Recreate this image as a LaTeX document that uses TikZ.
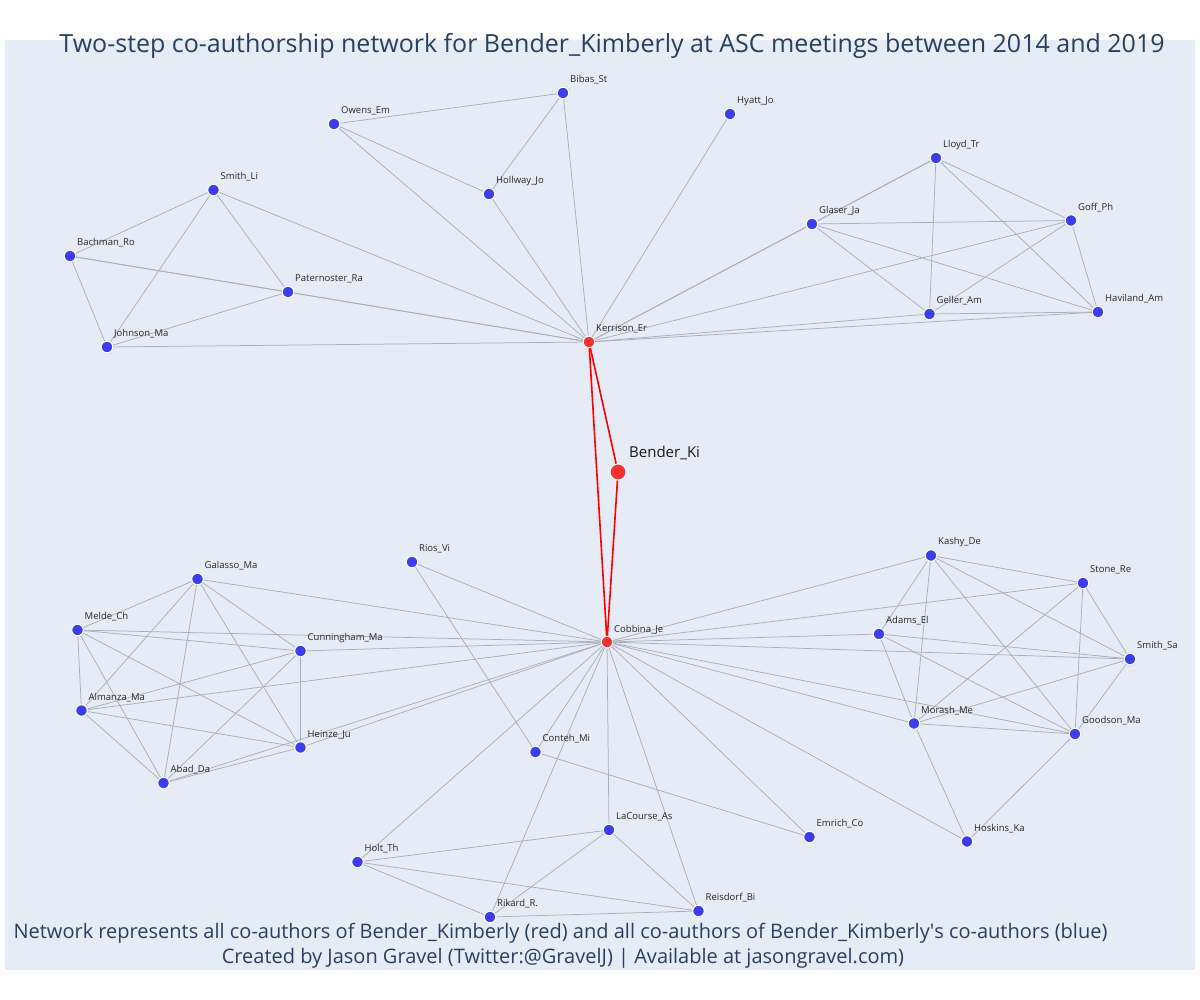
\documentclass[tikz,border=0pt]{standalone}
\usepackage{fontspec}
\setmainfont{Open Sans}
\definecolor{plotbg}{HTML}{E5ECF6}
\definecolor{titlec}{HTML}{2A3F5F}
\definecolor{edgec}{HTML}{ABAEB9}
\definecolor{bluen}{HTML}{3C3CF2}
\definecolor{redn}{HTML}{F52E30}
\pgfdeclarelayer{bglayer}
\pgfdeclarelayer{edgelayer}
\pgfsetlayers{bglayer,edgelayer,main}
\tikzset{
  bnode/.style={circle,fill=bluen,draw=white,line width=1pt,minimum size=11.5pt,inner sep=0pt},
  rnode/.style={circle,fill=redn,draw=white,line width=1pt,minimum size=11.5pt,inner sep=0pt},
  bignode/.style={circle,fill=redn,draw=white,line width=1pt,minimum size=16pt,inner sep=0pt},
  lab/.style={anchor=west,inner sep=0pt,font=\fontsize{9.5}{11}\selectfont,text=black!85},
  biglab/.style={anchor=west,inner sep=0pt,font=\fontsize{15}{18}\selectfont,text=black!90},
  edge/.style={draw=edgec,line width=0.75pt},
  redge/.style={draw=red,line width=1.6pt},
  titletext/.style={inner sep=0pt,text=titlec,font=\fontsize{25}{30}\selectfont,anchor=base},
  foottext/.style={inner sep=0pt,text=titlec,font=\fontsize{20}{24}\selectfont,anchor=base}
}
\newcommand{\au}[5]{\node[#5] (#1) at (#2,#3) {}; \node[lab] (#1-l) at ({#2+7},{#3-13}) {#4};}
\begin{document}
\begin{tikzpicture}[x=1pt,y=-1pt]
\useasboundingbox (0,0) rectangle (1200,1000);
\begin{pgfonlayer}{bglayer}
\fill[white] (0,0) rectangle (1200,1000);
\fill[plotbg] (5,40) rectangle (1195,970);
\end{pgfonlayer}
% red nodes
\node[rnode] (kerr) at (589,342) {};
\node[lab] (kerr-l) at (596,329) {Kerrison\_Er};
\node[bignode] (bender) at (618,472) {};
\node[biglab] (bender-l) at (629,453) {Bender\_Ki};
\node[rnode] (cobb) at (607,642) {};
\node[lab] (cobb-l) at (614,629.5) {Cobbina\_Je};
% top cluster
\au{bibas}{563}{93}{Bibas\_St}{bnode}
\au{owens}{334}{124}{Owens\_Em}{bnode}
\au{hyatt}{730}{114}{Hyatt\_Jo}{bnode}
\au{hollway}{489}{194}{Hollway\_Jo}{bnode}
\au{smithli}{213.5}{190}{Smith\_Li}{bnode}
\au{bachman}{70}{256}{Bachman\_Ro}{bnode}
\au{pater}{288}{292}{Paternoster\_Ra}{bnode}
\au{johnson}{107}{347}{Johnson\_Ma}{bnode}
\au{lloyd}{936}{158}{Lloyd\_Tr}{bnode}
\au{glaser}{812}{224}{Glaser\_Ja}{bnode}
\au{goff}{1071}{220.5}{Goff\_Ph}{bnode}
\au{geller}{929.5}{314}{Geller\_Am}{bnode}
\au{haviland}{1098}{312}{Haviland\_Am}{bnode}
% bottom left cluster
\au{rios}{412}{562}{Rios\_Vi}{bnode}
\au{galasso}{197.5}{579}{Galasso\_Ma}{bnode}
\au{melde}{77.5}{630}{Melde\_Ch}{bnode}
\au{cunning}{300.5}{651}{Cunningham\_Ma}{bnode}
\au{almanza}{81.5}{710.5}{Almanza\_Ma}{bnode}
\au{heinze}{300.5}{747.5}{Heinze\_Ju}{bnode}
\au{abad}{163.5}{783}{Abad\_Da}{bnode}
\au{conteh}{535.5}{752}{Conteh\_Mi}{bnode}
% right cluster
\au{kashy}{931}{555.5}{Kashy\_De}{bnode}
\au{stone}{1083}{583}{Stone\_Re}{bnode}
\au{adams}{879}{634}{Adams\_El}{bnode}
\au{smithsa}{1130}{659}{Smith\_Sa}{bnode}
\au{morash}{914}{723.5}{Morash\_Me}{bnode}
\au{goodson}{1075}{734}{Goodson\_Ma}{bnode}
\au{hoskins}{967}{841.5}{Hoskins\_Ka}{bnode}
\au{emrich}{809.5}{837}{Emrich\_Co}{bnode}
% bottom cluster
\au{lacourse}{609}{830}{LaCourse\_As}{bnode}
\au{holt}{357.5}{862}{Holt\_Th}{bnode}
\au{rikard}{490}{917}{Rikard\_R.}{bnode}
\au{reisdorf}{698.5}{911}{Reisdorf\_Bi}{bnode}
% titles
\node[titletext] (title) at (612,53) {Two-step co-authorship network for Bender\_Kimberly at ASC meetings between 2014 and 2019};
\node[foottext] (foot1) at (560.5,938) {Network represents all co-authors of Bender\_Kimberly (red) and all co-authors of Bender\_Kimberly\textquotesingle s co-authors (blue)};
\node[foottext] (foot2) at (563,963) {Created by Jason Gravel (Twitter:@GravelJ) | Available at jasongravel.com)};
\begin{pgfonlayer}{edgelayer}
% top edges
\foreach \a/\b in {bibas/owens,bibas/hollway,bibas/kerr,owens/hollway,owens/kerr,hollway/kerr,hyatt/kerr,
  smithli/bachman,smithli/johnson,smithli/pater,smithli/kerr,bachman/pater,bachman/kerr,pater/kerr,
  bachman/johnson,johnson/pater,johnson/kerr,
  lloyd/glaser,lloyd/kerr,glaser/kerr,lloyd/goff,lloyd/geller,lloyd/haviland,glaser/goff,glaser/geller,
  glaser/haviland,goff/geller,goff/haviland,goff/kerr,geller/haviland,geller/kerr,haviland/kerr}
  \draw[edge] (\a) -- (\b);
% bottom-left edges
\foreach \a/\b in {galasso/melde,galasso/almanza,galasso/abad,galasso/cunning,galasso/heinze,galasso/cobb,
  melde/almanza,melde/abad,melde/heinze,melde/cunning,melde/cobb,
  cunning/almanza,cunning/abad,cunning/heinze,cunning/cobb,
  almanza/heinze,almanza/abad,almanza/cobb,heinze/abad,heinze/cobb,abad/cobb,
  rios/cobb,rios/conteh,conteh/emrich,conteh/cobb}
  \draw[edge] (\a) -- (\b);
% bottom edges
\foreach \a/\b in {holt/cobb,rikard/cobb,lacourse/cobb,reisdorf/cobb,emrich/cobb,hoskins/cobb,
  holt/lacourse,holt/rikard,holt/reisdorf,rikard/lacourse,rikard/reisdorf,lacourse/reisdorf}
  \draw[edge] (\a) -- (\b);
% right edges
\foreach \a/\b in {kashy/cobb,stone/cobb,adams/cobb,smithsa/cobb,morash/cobb,goodson/cobb,
  kashy/stone,kashy/adams,kashy/morash,kashy/smithsa,kashy/goodson,
  stone/morash,stone/smithsa,stone/goodson,adams/smithsa,adams/morash,adams/goodson,
  smithsa/morash,smithsa/goodson,morash/goodson,morash/hoskins,goodson/hoskins}
  \draw[edge] (\a) -- (\b);
% red edges
\draw[redge] (kerr) -- (bender);
\draw[redge] (bender) -- (cobb);
\draw[redge] (kerr) -- (cobb);
\end{pgfonlayer}
\end{tikzpicture}
\end{document}
